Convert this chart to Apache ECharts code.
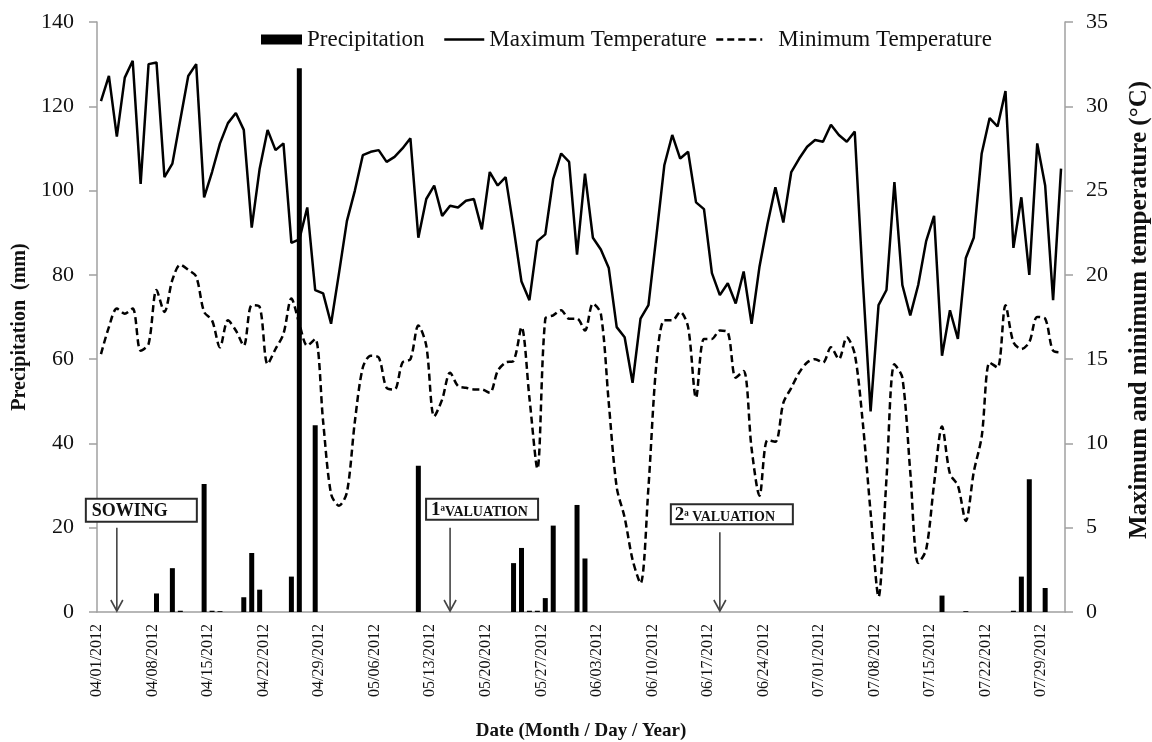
<!DOCTYPE html>
<html>
<head>
<meta charset="utf-8">
<script src="https://cdn.jsdelivr.net/npm/echarts@6/dist/echarts.min.js"></script>
<style>
  html, body { margin: 0; padding: 0; background: #fff; }
  #chart { width: 1152px; height: 742px; }
</style>
</head>
<body>
<div id="chart"></div>
<script>
const serif = "'Liberation Serif', 'Times New Roman', serif";

// one category per day, 04/01/2012 .. 07/31/2012
const firstDay = [2012, 4, 1];
const dayCount = 122;
function dayLabel(i) {
  const d = new Date(firstDay[0], firstDay[1] - 1, firstDay[2] + i);
  const mm = String(d.getMonth() + 1).padStart(2, '0');
  const dd = String(d.getDate()).padStart(2, '0');
  return mm + '/' + dd + '/' + d.getFullYear();
}
const days = [];
for (let i = 0; i < dayCount; i++) days.push(dayLabel(i));
// tick labels sit on the day boundaries (start of each day), so one extra
const tickLabels = [];
for (let i = 0; i <= dayCount; i++) tickLabels.push(dayLabel(i));

// Precipitation (mm), daily
const precipitation = [
  0, 0, 0, 0, 0, 0, 0, 4.4, 0, 10.4,
  0.3, 0, 0, 30.4, 0.3, 0.2, 0, 0, 3.5, 14.0,
  5.3, 0, 0, 0, 8.4, 129, 0, 44.3, 0, 0,
  0, 0, 0, 0, 0, 0, 0, 0, 0, 0,
  34.7, 0, 0, 0, 0, 0, 0, 0, 0, 0,
  0, 0, 11.6, 15.2, 0.3, 0.3, 3.3, 20.5, 0, 0,
  25.4, 12.7, 0, 0, 0, 0, 0, 0, 0, 0,
  0, 0, 0, 0, 0, 0, 0, 0, 0, 0,
  0, 0, 0, 0, 0, 0, 0, 0, 0, 0,
  0, 0, 0, 0, 0, 0, 0, 0, 0, 0,
  0, 0, 0, 0, 0, 0, 3.9, 0, 0, 0.2,
  0, 0, 0, 0, 0, 0.3, 8.4, 31.5, 0, 5.7,
  0, 0
];

// Maximum temperature (°C), daily
const maxTemp = [
  30.3, 31.8, 28.2, 31.7, 32.7, 25.4, 32.5, 32.6, 25.8, 26.6,
  29.2, 31.8, 32.5, 24.6, 26.1, 27.8, 29.0, 29.6, 28.6, 22.8,
  26.3, 28.6, 27.4, 27.8, 21.9, 22.1, 24.0, 19.1, 18.9, 17.1,
  20.1, 23.2, 25.0, 27.1, 27.3, 27.4, 26.7, 27.0, 27.5, 28.1,
  22.2, 24.5, 25.3, 23.5, 24.1, 24.0, 24.4, 24.5, 22.7, 26.1,
  25.3, 25.8, 22.8, 19.6, 18.5, 22.0, 22.4, 25.7, 27.2, 26.7,
  21.2, 26.0, 22.2, 21.5, 20.4, 16.9, 16.3, 13.6, 17.4, 18.2,
  22.3, 26.5, 28.3, 26.9, 27.3, 24.3, 23.9, 20.1, 18.8, 19.5,
  18.3, 20.2, 17.1, 20.5, 23.0, 25.2, 23.1, 26.1, 26.9, 27.6,
  28.0, 27.9, 28.9, 28.3, 27.9, 28.5, 19.8, 11.9, 18.2, 19.1,
  25.5, 19.4, 17.6, 19.4, 22.0, 23.5, 15.2, 17.9, 16.2, 21.0,
  22.2, 27.2, 29.3, 28.8, 30.9, 21.6, 24.6, 20.0, 27.8, 25.3,
  18.5, 26.3
];

// Minimum temperature (°C), daily
const minTemp = [
  15.3, 16.9, 18.0, 17.7, 18.0, 15.5, 15.9, 19.1, 17.8, 19.7,
  20.6, 20.3, 19.9, 17.8, 17.3, 15.7, 17.3, 16.7, 15.8, 18.2,
  18.1, 14.7, 15.6, 16.5, 18.6, 17.1, 15.8, 16.2, 11.3, 7.0,
  6.3, 7.1, 11.3, 14.5, 15.2, 15.1, 13.3, 13.2, 14.8, 15.0,
  17.0, 15.8, 11.6, 12.6, 14.2, 13.4, 13.3, 13.2, 13.2, 13.0,
  14.3, 14.8, 14.9, 16.9, 12.7, 8.5, 17.4, 17.6, 17.9, 17.4,
  17.4, 16.7, 18.3, 17.7, 12.4, 7.4, 5.6, 3.1, 1.7, 7.4,
  14.7, 17.3, 17.3, 17.8, 16.9, 12.7, 16.2, 16.2, 16.7, 16.6,
  13.9, 14.3, 9.7, 6.9, 10.2, 10.1, 12.4, 13.3, 14.2, 14.8,
  15.0, 14.8, 15.7, 15.0, 16.3, 15.3, 11.3, 5.9, 0.9, 7.9,
  14.7, 13.9, 8.3, 2.9, 3.7, 7.6, 11.0, 8.2, 7.5, 5.4,
  8.3, 10.4, 14.8, 14.5, 18.2, 16.0, 15.6, 16.0, 17.5, 17.4,
  15.5, 15.4
];

// crop stage notes: date pointed at, arrow start (mm), box offset/size in px
const notes = [
  { day: '04/03/2012', top: 20.0, rich: '{b|SOWING}', dx: -31, w: 111, h: 23, gap: 6, pad: 6 },
  { day: '05/15/2012', top: 20.0, rich: '{n|1}{s|ª}{c|VALUATION}', dx: -24, w: 112, h: 21, gap: 8, pad: 5 },
  { day: '06/18/2012', top: 18.9, rich: '{n|2}{s|ª}{c| VALUATION}', dx: -49, w: 122, h: 20, gap: 8, pad: 4 }
];

const axisGray = '#a0a0a0';
const textColor = '#111';
const hideSymbol = { color: 'rgba(0,0,0,0)', borderColor: 'rgba(0,0,0,0)', opacity: 0 };

const chart = echarts.init(document.getElementById('chart'));

const option = {
  animation: false,
  backgroundColor: '#fff',
  grid: { left: 97, right: 87, top: 22, bottom: 130, outerBoundsMode: 'none', containLabel: false },
  legend: [
    {
      data: [{ name: 'Precipitation', icon: 'rect' }], left: 261, top: 28, padding: 0,
      itemWidth: 41, itemHeight: 10,
      textStyle: { fontFamily: serif, fontSize: 23, color: textColor }
    },
    {
      data: ['Maximum Temperature'], left: 443, top: 28, padding: 0,
      itemWidth: 40, itemHeight: 10,
      itemStyle: hideSymbol,
      lineStyle: { width: 2.5 },
      textStyle: { fontFamily: serif, fontSize: 23, color: textColor }
    },
    {
      data: ['Minimum Temperature'], left: 715, top: 28, padding: 0,
      itemWidth: 46, itemHeight: 10,
      itemStyle: hideSymbol,
      lineStyle: { width: 2.5 },
      textStyle: { fontFamily: serif, fontSize: 23, color: textColor, padding: [0, 0, 0, 11] }
    }
  ],
  xAxis: [
    {
      type: 'category',
      position: 'bottom',
      data: days,
      boundaryGap: true,
      name: 'Date (Month / Day / Year)',
      nameLocation: 'middle',
      nameGap: 110,
      nameTextStyle: { fontFamily: serif, fontSize: 19, fontWeight: 'bold', color: textColor },
      axisLine: { lineStyle: { color: axisGray, width: 1.5 } },
      axisTick: { interval: 6, length: 6, lineStyle: { color: axisGray, width: 1.5 } },
      axisLabel: { show: false }
    },
    {
      // labels only, placed on the weekly tick marks
      type: 'category',
      position: 'bottom',
      data: tickLabels,
      boundaryGap: false,
      axisLine: { show: false },
      axisTick: { show: false },
      axisLabel: {
        interval: 6, rotate: 90, margin: 12,
        fontFamily: serif, fontSize: 16, color: textColor
      }
    }
  ],
  yAxis: [
    {
      type: 'value', min: 0, max: 140, interval: 20,
      name: 'Precipitation  (mm)',
      nameLocation: 'middle', nameRotate: 90, nameGap: 65,
      nameTextStyle: {
        fontFamily: serif, fontSize: 20, fontWeight: 'bold', color: textColor,
        padding: [0, 20, 0, 0]
      },
      splitLine: { show: false },
      axisLine: { show: true, lineStyle: { color: axisGray, width: 1.5 } },
      axisTick: { show: true, length: 8, lineStyle: { color: axisGray, width: 1.5 } },
      axisLabel: { margin: 23, fontFamily: serif, fontSize: 22, color: textColor }
    },
    {
      type: 'value', min: 0, max: 35, interval: 5, position: 'right',
      name: 'Maximum and minimum temperature (°C)',
      nameLocation: 'middle', nameRotate: 90, nameGap: 62,
      nameTextStyle: {
        fontFamily: serif, fontSize: 25, fontWeight: 'bold', color: textColor,
        padding: [0, 0, 0, 14]
      },
      splitLine: { show: false },
      axisLine: { show: true, lineStyle: { color: axisGray, width: 1.5 } },
      axisTick: { show: true, length: 8, lineStyle: { color: axisGray, width: 1.5 } },
      axisLabel: { margin: 21, fontFamily: serif, fontSize: 22, color: textColor }
    }
  ],
  series: [
    {
      name: 'Precipitation',
      type: 'bar',
      xAxisIndex: 0,
      yAxisIndex: 0,
      barWidth: 5,
      itemStyle: { color: '#000' },
      data: precipitation
    },
    {
      name: 'Maximum Temperature',
      type: 'line',
      xAxisIndex: 0,
      yAxisIndex: 1,
      symbol: 'none',
      lineStyle: { color: '#000', width: 2.5 },
      itemStyle: { color: '#000' },
      data: maxTemp
    },
    {
      name: 'Minimum Temperature',
      type: 'line',
      xAxisIndex: 0,
      yAxisIndex: 1,
      symbol: 'none',
      smooth: 0.3,
      lineStyle: { color: '#000', width: 2.5, type: [7, 4] },
      itemStyle: { color: '#000' },
      data: minTemp
    }
  ]
};

chart.setOption(option);

// boxes and arrows, anchored to the axes
const graphics = [];
notes.forEach(function (n) {
  const base = chart.convertToPixel({ xAxisIndex: 0, yAxisIndex: 0 }, [n.day, 0]);
  const start = chart.convertToPixel({ xAxisIndex: 0, yAxisIndex: 0 }, [n.day, n.top]);
  const ax = base[0];
  const boxBottom = start[1] - n.gap;
  const boxTop = boxBottom - n.h;
  graphics.push({
    type: 'rect',
    shape: { x: ax + n.dx, y: boxTop, width: n.w, height: n.h },
    style: { fill: '#fff', stroke: '#2a2a2a', lineWidth: 2 },
    z: 100
  });
  graphics.push({
    type: 'text',
    x: ax + n.dx + n.pad,
    y: boxTop + n.h / 2 + 1,
    style: {
      text: n.rich,
      verticalAlign: 'middle',
      fill: textColor,
      rich: {
        b: { fontFamily: serif, fontSize: 18, fontWeight: 'bold', verticalAlign: 'bottom' },
        n: { fontFamily: serif, fontSize: 19, fontWeight: 'bold', verticalAlign: 'bottom' },
        s: { fontFamily: serif, fontSize: 15, fontWeight: 'bold', verticalAlign: 'bottom' },
        c: { fontFamily: serif, fontSize: 14, fontWeight: 'bold', verticalAlign: 'bottom' }
      }
    },
    z: 101
  });
  graphics.push({
    type: 'line',
    shape: { x1: ax, y1: start[1], x2: ax, y2: base[1] - 1 },
    style: { stroke: '#444', lineWidth: 1.6 },
    z: 100
  });
  graphics.push({
    type: 'polyline',
    shape: { points: [[ax - 6, base[1] - 12], [ax, base[1] - 1], [ax + 6, base[1] - 12]] },
    style: { stroke: '#444', lineWidth: 1.6, fill: null },
    z: 100
  });
});
chart.setOption({ graphic: graphics });
</script>
</body>
</html>
